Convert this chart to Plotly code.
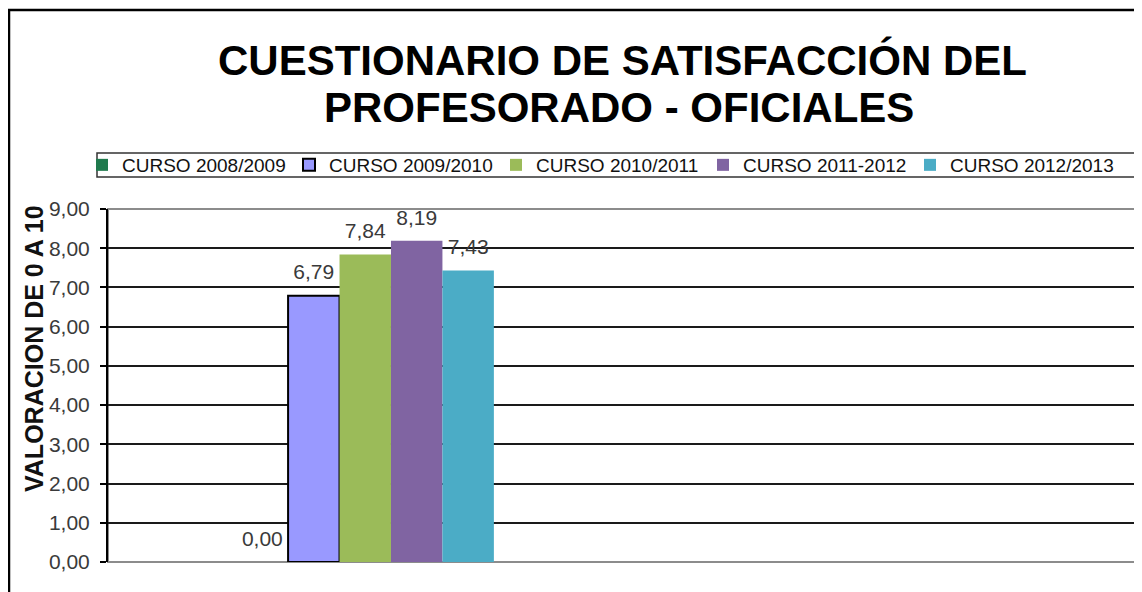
import plotly.graph_objects as go

categories = ["OFICIALES", " "]
series_names = ["CURSO 2008/2009", "CURSO 2009/2010", "CURSO 2010/2011", "CURSO 2011-2012", "CURSO 2012/2013"]
values_2008 = [0.00, None]
values_2009 = [6.79, None]
values_2010 = [7.84, None]
values_2011 = [8.19, None]
values_2012 = [7.43, None]
series_values = [values_2008, values_2009, values_2010, values_2011, values_2012]
colors = ["#1F7A4D", "#9999FF", "#9BBB59", "#8064A2", "#4BACC6"]
line_colors = ["#1F7A4D", "#000000", "#9BBB59", "#8064A2", "#4BACC6"]
line_widths = [0, 2, 0, 0, 0]

FONT = "Arial, Liberation Sans, sans-serif"

fig = go.Figure()
for i, (name, vals, c, lc, lw) in enumerate(zip(series_names, series_values, colors, line_colors, line_widths)):
    fig.add_trace(go.Bar(
        name=name, x=categories, y=vals, offsetgroup=str(i),
        marker=dict(color=c, line=dict(color=lc, width=lw)),
        hoverinfo="skip",
    ))
# value labels, grouped like the bars
for i, (name, vals) in enumerate(zip(series_names, series_values)):
    fig.add_trace(go.Scatter(
        name=name, x=categories, y=vals, offsetgroup=str(i),
        mode="markers+text", showlegend=False,
        marker=dict(size=16, color="rgba(0,0,0,0)"),
        texttemplate="%{y:.2f}", textposition="top center",
        textfont=dict(family=FONT, size=21, color="#3a3a3a"),
        cliponaxis=False,
    ))

# page has an 8px body margin; the figure is shrunk and coordinates shifted
OFF = 8
W, H = 1142 - OFF, 592 - OFF
L, R, T, B = 108 - OFF, 5, 209 - OFF, 30
pw, ph = W - L - R, H - T - B

def px_x(x):
    return (x - OFF - L) / pw

def px_y(y):
    return (H + OFF - B - y) / ph

fig.update_layout(
    width=W, height=H,
    margin=dict(l=L, r=R, t=T, b=B),
    paper_bgcolor="white", plot_bgcolor="white",
    separators=",.",
    barmode="group", bargap=0.5, bargroupgap=0,
    scattermode="group", scattergap=0.5,
    showlegend=True,
    legend=dict(orientation="h", x=px_x(82), xanchor="left", y=px_y(165), yanchor="middle",
                font=dict(family=FONT, size=19, color="#111"),
                entrywidth=162, entrywidthmode="pixels",
                bgcolor="rgba(0,0,0,0)", borderwidth=0, traceorder="normal"),
    xaxis=dict(showticklabels=False, showgrid=False, zeroline=False, ticks="",
               showline=False),
    yaxis=dict(range=[0, 9], dtick=1, tickformat=".2f",
               showgrid=True, gridcolor="#1a1a1a", gridwidth=1.5,
               zeroline=False, showline=True, linecolor="black", linewidth=2,
               ticks="outside", ticklen=6, tickcolor="black", tickwidth=1.5,
               ticklabelstandoff=6,
               tickfont=dict(family=FONT, size=21, color="#3a3a3a")),
    shapes=[
        dict(type="rect", xref="paper", yref="paper", x0=0, x1=1, y0=0, y1=1,
             line=dict(color="#8c8c8c", width=2), layer="below"),
        dict(type="rect", xref="paper", yref="paper", x0=px_x(97), x1=px_x(1160),
             y0=px_y(177), y1=px_y(153), line=dict(color="#333", width=1.5)),
        dict(type="rect", xref="paper", yref="paper", x0=px_x(9), x1=px_x(1170),
             y0=px_y(620), y1=px_y(10), line=dict(color="black", width=2.5)),
    ],
    annotations=[
        dict(text="<b>CUESTIONARIO DE SATISFACCIÓN DEL</b>", xref="paper", yref="paper",
             x=px_x(622), y=px_y(60), xanchor="center", yanchor="middle", showarrow=False,
             font=dict(family=FONT, size=42, color="black")),
        dict(text="<b>PROFESORADO - OFICIALES</b>", xref="paper", yref="paper",
             x=px_x(619), y=px_y(107), xanchor="center", yanchor="middle", showarrow=False,
             font=dict(family=FONT, size=42, color="black")),
        dict(text="<b>VALORACION DE 0 A 10</b>", xref="paper", yref="paper",
             x=px_x(34), y=px_y(349), xanchor="center", yanchor="middle", showarrow=False,
             textangle=-90, font=dict(family=FONT, size=25, color="#111")),
    ],
)

fig.write_html("out.html")
